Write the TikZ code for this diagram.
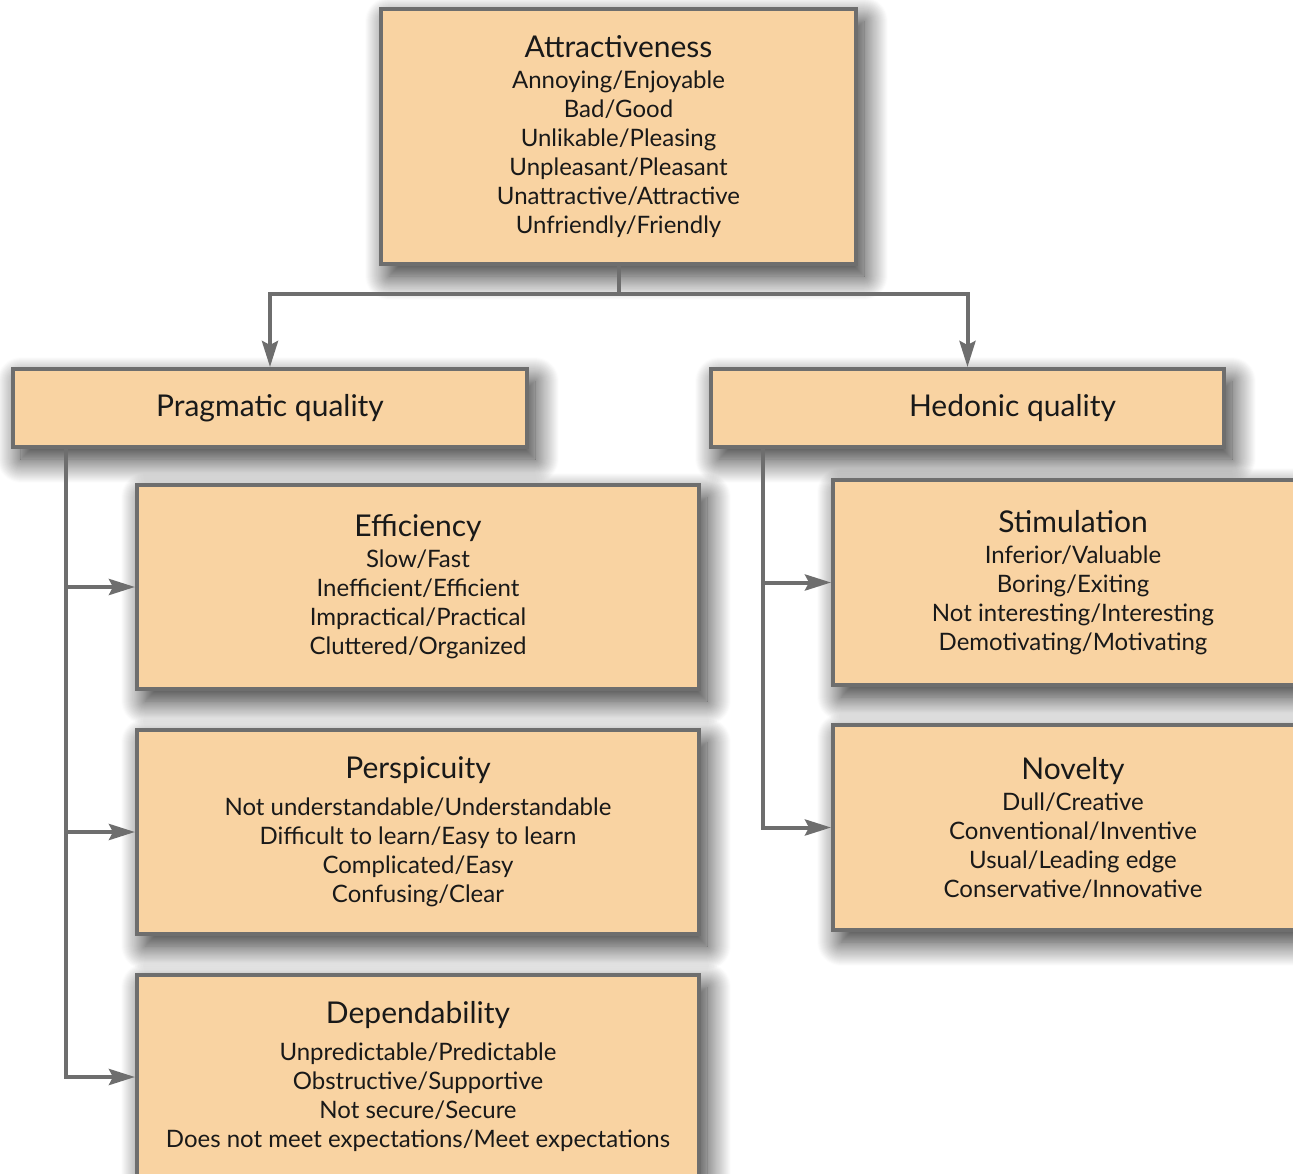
\documentclass[tikz,border=0pt]{standalone}
\usepackage{fontspec}
\setmainfont{Lato}
\usetikzlibrary{arrows.meta,shadows.blur}
\definecolor{boxfill}{HTML}{F9D3A2}
\definecolor{edgegray}{HTML}{6E6E6E}
\newcommand{\bodyfnt}{\fontsize{24}{29}\selectfont}
\newcommand{\ttlfnt}{\fontsize{30}{34}\selectfont}
\begin{document}
\begin{tikzpicture}[x=1pt,y=-1pt,
  box/.style={draw=edgegray, line width=4pt, fill=boxfill,
    blur shadow={shadow xshift=8pt, shadow yshift=-12pt, shadow blur radius=24pt, shadow blur steps=24, shadow opacity=85},
    inner sep=0pt, align=center, font=\bodyfnt, text=black!90},
  link/.style={draw=edgegray, line width=4pt},
  conn/.style={link, -{Stealth[length=26pt,width=16pt,inset=4pt]}},
]
\useasboundingbox (0,0) rectangle (1293,1174);
\clip (0,0) rectangle (1293,1174);

\node[box, minimum width=475, minimum height=255] (attr) at (618.5,136.5)
 {{\ttlfnt Attractiveness}\\[2pt] Annoying/Enjoyable\\ Bad/Good\\ Unlikable/Pleasing\\ Unpleasant/Pleasant\\ Unattractive/Attractive\\ Unfriendly/Friendly};

\node[box, minimum width=514, minimum height=78, font=\ttlfnt] (prag) at (270,408) {Pragmatic quality};
\node[box, minimum width=513, minimum height=78, font=\ttlfnt] (hed) at (967.5,408) {\hspace*{90pt}Hedonic quality};

\node[box, minimum width=562, minimum height=204] (eff) at (418,587)
 {{\ttlfnt Efficiency}\\[2pt] Slow/Fast\\ Inefficient/Efficient\\ Impractical/Practical\\ Cluttered/Organized};
\node[box, minimum width=562, minimum height=204] (persp) at (418,832)
 {{\ttlfnt Perspicuity}\\[8pt] Not understandable/Understandable\\ Difficult to learn/Easy to learn\\ Complicated/Easy\\ Confusing/Clear};
\node[box, minimum width=562, minimum height=204] (dep) at (418,1077)
 {{\ttlfnt Dependability}\\[8pt] Unpredictable/Predictable\\ Obstructive/Supportive\\ Not secure/Secure\\ Does not meet expectations/Meet expectations};

\node[box, minimum width=480, minimum height=205] (stim) at (1073,582.5)
 {{\ttlfnt Stimulation}\\[2pt] Inferior/Valuable\\ Boring/Exiting\\ Not interesting/Interesting\\ Demotivating/Motivating};
\node[box, minimum width=480, minimum height=205] (nov) at (1073,827.5)
 {{\ttlfnt Novelty}\\[2pt] Dull/Creative\\ Conventional/Inventive\\ Usual/Leading edge\\ Conservative/Innovative};

\coordinate (j) at (618.5,294);
\draw[link] (attr.south) -- (j);
\draw[conn] (j) -| (prag.north);
\draw[conn] (j) -| (hed.north);

\coordinate (lb) at ([xshift=55pt]prag.south west);
\draw[conn] (lb) |- (dep.west);
\draw[conn] (lb |- eff.west) -- (eff.west);
\draw[conn] (lb |- persp.west) -- (persp.west);

\coordinate (rb) at ([xshift=54pt]hed.south west);
\draw[conn] (rb) |- (nov.west);
\draw[conn] (rb |- stim.west) -- (stim.west);
\end{tikzpicture}
\end{document}
